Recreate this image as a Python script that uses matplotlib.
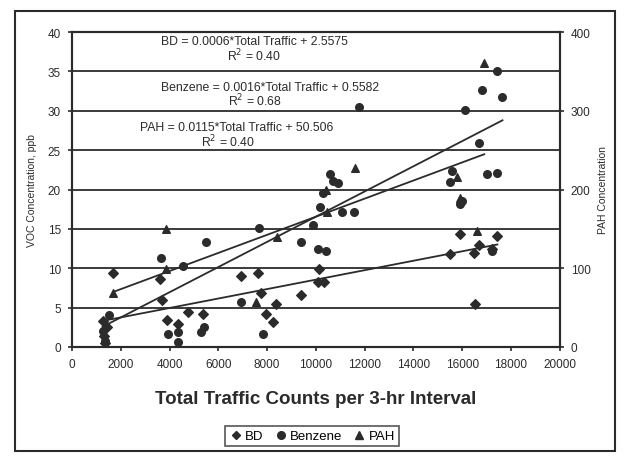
import matplotlib
matplotlib.use("Agg")
import matplotlib.pyplot as plt
from matplotlib.lines import Line2D
import numpy as np

# Traffic counts (per 3-hr interval) and measured concentrations
bd_x = [1280, 1450, 1300, 1350, 1700, 3600, 3700, 3900, 4330, 4740, 5360,
        6930, 7630, 7750, 7960, 8250, 8370, 9400, 10100, 10350, 10140,
        15500, 15900, 16500, 16700, 17200, 17440, 16540]
bd_y = [3.3, 2.6, 1.4, 0.5, 9.4, 8.6, 6.0, 3.4, 2.9, 4.5, 4.2,
        9.0, 9.4, 6.8, 4.2, 3.2, 5.5, 6.6, 8.3, 8.2, 9.9,
        11.8, 14.3, 11.9, 13.0, 12.4, 14.1, 5.5]

benz_x = [1250, 1350, 1500, 3630, 4535, 3950, 4330, 4330, 5480, 5400, 5300,
          6930, 7670, 7840, 9900, 9400, 10100, 10400, 10560, 10700, 10900,
          10310, 10150, 11050, 11550, 11750, 15590, 15500, 15900, 16000,
          16700, 16120, 16820, 17440, 17650, 17000, 17440, 17200]
benz_y = [2.0, 0.8, 4.1, 11.3, 10.3, 1.6, 1.9, 0.6, 13.3, 2.6, 1.9,
          5.7, 15.1, 1.7, 15.5, 13.4, 12.4, 12.2, 22.0, 21.1, 20.8,
          19.5, 17.8, 17.2, 17.1, 30.5, 22.4, 21.0, 18.2, 18.6,
          25.9, 30.1, 32.7, 35.1, 31.8, 22.0, 22.1, 12.2]

pah_x = [1690, 3835, 3835, 7550, 8410, 11590, 10450, 16900, 15800, 15900, 16620, 10400, 9900]
pah_y = [69, 150, 99, 57, 140, 228, 172, 361, 216, 189, 147, 200, 155]

# Linear trend coefficients (slope, intercept)
bd_fit = (0.0006, 2.5575)
benz_fit = (0.0016, 0.5582)
pah_fit = (0.0115, 50.506)

x_ticks = list(range(0, 20001, 2000))
left_ticks = list(range(0, 41, 5))
right_ticks = list(range(0, 401, 50))

plt.rcParams['font.family'] = ['Liberation Sans', 'DejaVu Sans']
ink = '#2b2b2b'

fig = plt.figure(figsize=(6.29, 4.60), dpi=100)
ax = fig.add_axes([0.1145, 0.2435, 0.7755, 0.6845])
ax2 = ax.twinx()

ax.set_xlim(0, 20000)
ax.set_ylim(0, 40)
ax2.set_ylim(0, 400)

for y in left_ticks[1:-1]:
    ax.axhline(y, color=ink, lw=1.3, zorder=1)

ax.scatter(bd_x, bd_y, marker='D', s=24, color=ink, zorder=3)
ax.scatter(benz_x, benz_y, marker='o', s=30, color=ink, zorder=3)
ax2.scatter(pah_x, pah_y, marker='^', s=30, color=ink, zorder=3)

def trend(axis, xs, fit):
    xx = np.array([min(xs), max(xs)])
    axis.plot(xx, fit[0] * xx + fit[1], color=ink, lw=1.3, zorder=2)

trend(ax, bd_x, bd_fit)
trend(ax, benz_x, benz_fit)
trend(ax2, pah_x, pah_fit)

ax.set_xticks(x_ticks)
ax.set_xticklabels([str(t) for t in x_ticks])
ax.set_yticks(left_ticks)
ax2.set_yticks(right_ticks[::2])

for a in (ax, ax2):
    for s in a.spines.values():
        s.set_color(ink)
        s.set_linewidth(1.5)
    a.tick_params(colors=ink, labelsize=8.5, length=3, width=1.2, pad=5)

ax.set_xlabel('Total Traffic Counts per 3-hr Interval', fontsize=13.5,
              fontweight='bold', color=ink, labelpad=14)
ax.set_ylabel('VOC Concentration, ppb', fontsize=7.5, color=ink, labelpad=8)
ax2.set_ylabel('PAH Concentration', fontsize=7.5, color=ink, labelpad=5)

eq_style = dict(fontsize=8.8, color=ink, ha='center', va='center',
                transform=fig.transFigure)
def px(xp, yp):
    return xp / 629, 1 - yp / 460

fig.text(*px(254, 42), 'BD = %.4f*Total Traffic + %.4f' % bd_fit, **eq_style)
fig.text(*px(254, 56), 'R$^2$ = 0.40', **eq_style)
fig.text(*px(270, 88), 'Benzene = %.4f*Total Traffic + %.4f' % benz_fit, **eq_style)
fig.text(*px(255, 101), 'R$^2$ = 0.68', **eq_style)
fig.text(*px(237, 128), 'PAH = %.4f*Total Traffic + %.3f' % pah_fit, **eq_style)
fig.text(*px(228, 142), 'R$^2$ = 0.40', **eq_style)

# legend row below the axis title
handles = [Line2D([], [], marker='D', ls='', color=ink, markersize=4.5, label='BD'),
           Line2D([], [], marker='o', ls='', color=ink, markersize=5.5, label='Benzene'),
           Line2D([], [], marker='^', ls='', color=ink, markersize=5.5, label='PAH')]
leg = fig.legend(handles=handles, loc='center', bbox_to_anchor=px(312, 437),
                 ncol=3, fontsize=9.5, frameon=True, fancybox=False,
                 handletextpad=0.2, columnspacing=0.8, borderpad=0.3,
                 handlelength=1.0)
leg.get_frame().set_edgecolor(ink)
leg.get_frame().set_linewidth(1.2)

# chart-area border
fig.add_artist(plt.Rectangle((15 / 629, 1 - 452 / 460), 600 / 629, 440 / 460,
                             transform=fig.transFigure, fill=False,
                             edgecolor=ink, lw=1.5))

fig.savefig('out.png', dpi=100)
